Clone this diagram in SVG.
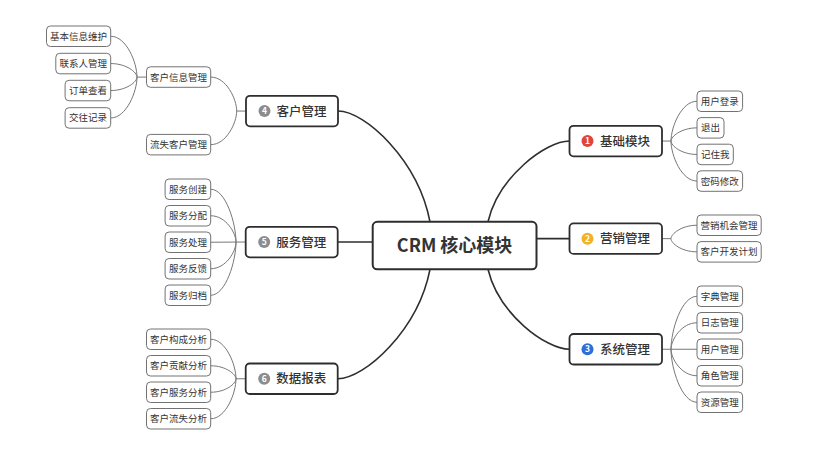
<svg xmlns="http://www.w3.org/2000/svg" width="813" height="457" viewBox="0 0 813 457">
<style>
text{font-family:"Noto Sans CJK SC","Liberation Sans",sans-serif;fill:#333}
.c rect{fill:#fff;stroke:#727272;stroke-width:1}
.c text{font-size:9.5px;text-anchor:middle}
.m rect{fill:#fff;stroke:#2e2e2e;stroke-width:1.8}
.m text{font-size:12.5px;font-weight:500}
.m .n{font-size:8.5px;font-weight:700;fill:#fff;text-anchor:middle}
.sub path{fill:none;stroke:#777;stroke-width:1}
.main path{fill:none;stroke:#2e2e2e;stroke-width:1.6}
</style>
<rect width="813" height="457" fill="#fff"/>
<g id="connectors">
<g class="main">
<path d="M338,111.05 C365,111.05 418,160 430,221.8"/>
<path d="M337.7,242.05 L372.7,242.05"/>
<path d="M337.7,378.75 C365,378.75 418,330 430,269.3"/>
<path d="M569.5,141.05 C546,141.05 498.6,176.6 488,221.8"/>
<path d="M536.5,238.65 L569.5,238.65"/>
<path d="M569.5,349.25 C546,349.25 498.6,314 488,269.3"/>
</g>
<g class="sub">
<path d="M146.7,77.1 H137"/>
<path d="M137,77.1 C137,62.8 126.5,36.25 110.7,36.25"/>
<path d="M137,77.1 C137,72.4 126.5,63.55 110.7,63.55"/>
<path d="M137,77.1 C137,81.8 126.5,90.55 110.7,90.55"/>
<path d="M137,77.1 C137,91.4 126.5,117.95 110.7,117.95"/>
<path d="M246,111.05 H236.7"/>
<path d="M236.7,111.05 C236.7,99.2 226.3,77.05 210.7,77.05"/>
<path d="M236.7,111.05 C236.7,122.8 226.3,144.65 210.7,144.65"/>
<path d="M245.7,242.05 H236"/>
<path d="M236,242.05 C236,223.7 225.9,189.25 210.7,189.25"/>
<path d="M236,242.05 C236,233 225.9,215.75 210.7,215.75"/>
<path d="M236,242.05 L210.7,242.25"/>
<path d="M236,242.05 C236,251.5 225.9,268.75 210.7,268.75"/>
<path d="M236,242.05 C236,260.8 225.9,295.25 210.7,295.25"/>
<path d="M245.7,378.75 H236"/>
<path d="M236,378.75 C236,365.1 225.9,339.25 210.7,339.25"/>
<path d="M236,378.75 C236,374.4 225.9,365.75 210.7,365.75"/>
<path d="M236,378.75 C236,383.6 225.9,392.25 210.7,392.25"/>
<path d="M236,378.75 C236,392.9 225.9,418.75 210.7,418.75"/>
<path d="M662,141.05 H671"/>
<path d="M671,141.05 C671,127.1 681.4,101.25 697,101.25"/>
<path d="M671,141.05 C671,136.4 681.4,127.85 697,127.85"/>
<path d="M671,141.05 C671,145.7 681.4,154.45 697,154.45"/>
<path d="M671,141.05 C671,155.05 681.4,181.05 697,181.05"/>
<path d="M662,238.65 H671"/>
<path d="M671,238.65 C671,234 681.4,225.25 697,225.25"/>
<path d="M671,238.65 C671,243.3 681.4,251.85 697,251.85"/>
<path d="M662,349.25 H671"/>
<path d="M671,349.25 C671,330.7 681.4,296.25 697,296.25"/>
<path d="M671,349.25 C671,340 681.4,322.75 697,322.75"/>
<path d="M671,349.25 L697,349.25"/>
<path d="M671,349.25 C671,358.5 681.4,375.75 697,375.75"/>
<path d="M671,349.25 C671,367.8 681.4,402.25 697,402.25"/>
</g>
</g>
<g id="center">
<rect x="372.7" y="221.8" width="163.8" height="47.5" rx="4.5" fill="#fff" stroke="#2e2e2e" stroke-width="2"/>
<text x="454.6" y="252" font-size="18" font-weight="700" text-anchor="middle">CRM 核心模块</text>
</g>
<g id="n-kehuguanli" class="m">
<rect x="246" y="95.8" width="92" height="30.5" rx="4"/>
<circle cx="264.5" cy="111.05" r="6" fill="#8c8c8c"/>
<text class="n" x="264.5" y="114.1">4</text>
<text x="276.5" y="115.5">客户管理</text>
</g>
<g id="n-fuwuguanli" class="m">
<rect x="245.7" y="226.8" width="92" height="30.5" rx="4"/>
<circle cx="264.2" cy="242.05" r="6" fill="#8c8c8c"/>
<text class="n" x="264.2" y="245.1">5</text>
<text x="276.2" y="246.5">服务管理</text>
</g>
<g id="n-shujubaobiao" class="m">
<rect x="245.7" y="363.5" width="92" height="30.5" rx="4"/>
<circle cx="264.2" cy="378.75" r="6" fill="#8c8c8c"/>
<text class="n" x="264.2" y="381.8">6</text>
<text x="276.2" y="383.2">数据报表</text>
</g>
<g id="n-jichumokuai" class="m">
<rect x="569.5" y="125.8" width="92.5" height="30.5" rx="4"/>
<circle cx="587.5" cy="141.05" r="6" fill="#e0443a"/>
<text class="n" x="587.5" y="144.1">1</text>
<text x="600" y="145.5">基础模块</text>
</g>
<g id="n-yingxiaoguanli" class="m">
<rect x="569.5" y="223.4" width="92.5" height="30.5" rx="4"/>
<circle cx="587.5" cy="238.65" r="6" fill="#f3b125"/>
<text class="n" x="587.5" y="241.7">2</text>
<text x="600" y="243.1">营销管理</text>
</g>
<g id="n-xitongguanli" class="m">
<rect x="569.5" y="334" width="92.5" height="30.5" rx="4"/>
<circle cx="587.5" cy="349.25" r="6" fill="#2e6fd6"/>
<text class="n" x="587.5" y="352.3">3</text>
<text x="600" y="353.7">系统管理</text>
</g>
<g id="n-kehuxinxi" class="c"><rect x="146.5" y="66.8" width="64.2" height="20.5" rx="4"/><text x="178.6" y="80.5">客户信息管理</text></g>
<g id="n-liushikehu" class="c"><rect x="146.5" y="134.4" width="64.2" height="20.5" rx="4"/><text x="178.6" y="148.1">流失客户管理</text></g>
<g id="n-jibenxinxi" class="c"><rect x="46.5" y="26" width="64.2" height="20.5" rx="4"/><text x="78.6" y="39.7">基本信息维护</text></g>
<g id="n-lianxiren" class="c"><rect x="55.8" y="53.3" width="54.9" height="20.5" rx="4"/><text x="83.25" y="67">联系人管理</text></g>
<g id="n-dingdan" class="c"><rect x="65.1" y="80.3" width="45.6" height="20.5" rx="4"/><text x="87.9" y="94">订单查看</text></g>
<g id="n-jiaowang" class="c"><rect x="65.1" y="107.7" width="45.6" height="20.5" rx="4"/><text x="87.9" y="121.4">交往记录</text></g>
<g id="n-fuwuchuangjian" class="c"><rect x="165.1" y="179" width="45.6" height="20.5" rx="4"/><text x="187.9" y="192.7">服务创建</text></g>
<g id="n-fuwufenpei" class="c"><rect x="165.1" y="205.5" width="45.6" height="20.5" rx="4"/><text x="187.9" y="219.2">服务分配</text></g>
<g id="n-fuwuchuli" class="c"><rect x="165.1" y="232" width="45.6" height="20.5" rx="4"/><text x="187.9" y="245.7">服务处理</text></g>
<g id="n-fuwufankui" class="c"><rect x="165.1" y="258.5" width="45.6" height="20.5" rx="4"/><text x="187.9" y="272.2">服务反馈</text></g>
<g id="n-fuwuguidang" class="c"><rect x="165.1" y="285" width="45.6" height="20.5" rx="4"/><text x="187.9" y="298.7">服务归档</text></g>
<g id="n-goucheng" class="c"><rect x="146.5" y="329" width="64.2" height="20.5" rx="4"/><text x="178.6" y="342.7">客户构成分析</text></g>
<g id="n-gongxian" class="c"><rect x="146.5" y="355.5" width="64.2" height="20.5" rx="4"/><text x="178.6" y="369.2">客户贡献分析</text></g>
<g id="n-fuwufenxi" class="c"><rect x="146.5" y="382" width="64.2" height="20.5" rx="4"/><text x="178.6" y="395.7">客户服务分析</text></g>
<g id="n-liushifenxi" class="c"><rect x="146.5" y="408.5" width="64.2" height="20.5" rx="4"/><text x="178.6" y="422.2">客户流失分析</text></g>
<g id="n-denglu" class="c"><rect x="697" y="91" width="45.6" height="20.5" rx="4"/><text x="719.8" y="104.7">用户登录</text></g>
<g id="n-tuichu" class="c"><rect x="697" y="117.6" width="27" height="20.5" rx="4"/><text x="710.5" y="131.3">退出</text></g>
<g id="n-jizhuwo" class="c"><rect x="697" y="144.2" width="36.3" height="20.5" rx="4"/><text x="715.15" y="157.9">记住我</text></g>
<g id="n-mima" class="c"><rect x="697" y="170.8" width="45.6" height="20.5" rx="4"/><text x="719.8" y="184.5">密码修改</text></g>
<g id="n-jihui" class="c"><rect x="697" y="215" width="64.2" height="20.5" rx="4"/><text x="729.1" y="228.7">营销机会管理</text></g>
<g id="n-kaifa" class="c"><rect x="697" y="241.6" width="64.2" height="20.5" rx="4"/><text x="729.1" y="255.3">客户开发计划</text></g>
<g id="n-zidian" class="c"><rect x="697" y="286" width="45.6" height="20.5" rx="4"/><text x="719.8" y="299.7">字典管理</text></g>
<g id="n-rizhi" class="c"><rect x="697" y="312.5" width="45.6" height="20.5" rx="4"/><text x="719.8" y="326.2">日志管理</text></g>
<g id="n-yonghu" class="c"><rect x="697" y="339" width="45.6" height="20.5" rx="4"/><text x="719.8" y="352.7">用户管理</text></g>
<g id="n-juese" class="c"><rect x="697" y="365.5" width="45.6" height="20.5" rx="4"/><text x="719.8" y="379.2">角色管理</text></g>
<g id="n-ziyuan" class="c"><rect x="697" y="392" width="45.6" height="20.5" rx="4"/><text x="719.8" y="405.7">资源管理</text></g>
</svg>
